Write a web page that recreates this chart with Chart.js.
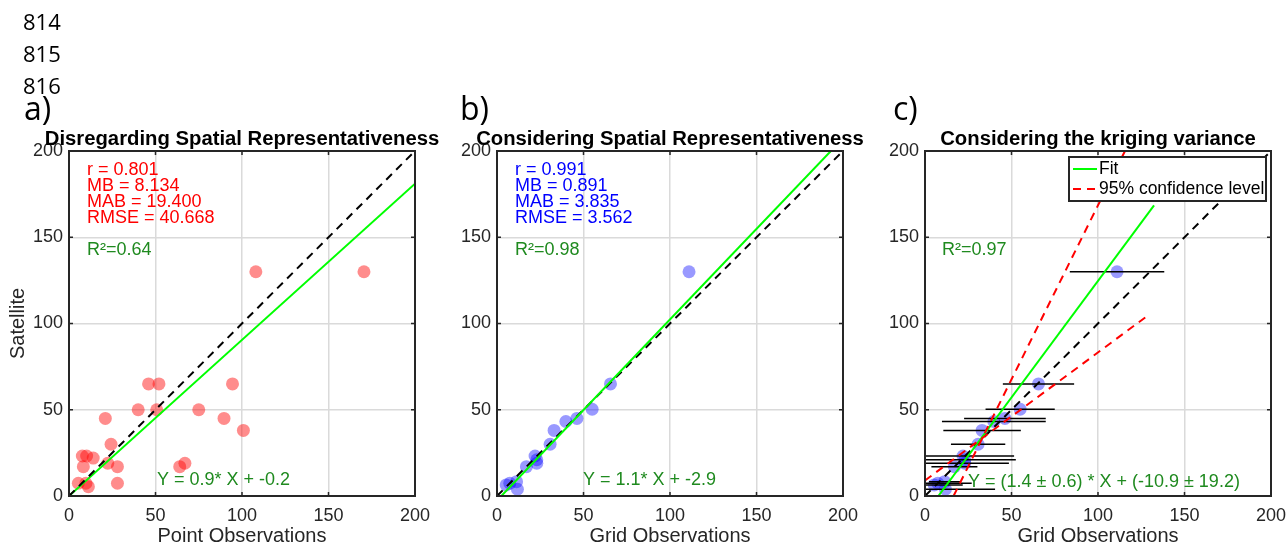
<!DOCTYPE html>
<html>
<head>
<meta charset="utf-8">
<script src="https://cdn.jsdelivr.net/npm/chart.js@4.4.0/dist/chart.umd.min.js"></script>
<style>
body { margin:0; background:#fff; width:1287px; height:548px; position:relative; overflow:hidden; }
canvas { position:absolute; top:0; }
.lbl { position:absolute; font-family:"Open Sans", sans-serif; line-height:1; color:#000; z-index:2; }
</style>
</head>
<body>
<canvas id="ca" width="450" height="548" style="left:0px"></canvas>
<canvas id="cb" width="432" height="548" style="left:440px"></canvas>
<canvas id="cc" width="436" height="548" style="left:865px"></canvas>

<div class="lbl" style="left:23px;top:10px;font-size:22px">814</div>
<div class="lbl" style="left:23px;top:42px;font-size:22px">815</div>
<div class="lbl" style="left:23px;top:74px;font-size:22px">816</div>
<div class="lbl" style="left:24px;top:92px;font-size:32px">a)</div>
<div class="lbl" style="left:460px;top:92px;font-size:32px">b)</div>
<div class="lbl" style="left:893px;top:92px;font-size:32px">c)</div>

<script>
'use strict';

const FONT = '"Liberation Sans", Helvetica, Arial, sans-serif';
Chart.defaults.font.family = FONT;

// axis ticks (same for every panel)
const axisTicks = [0, 50, 100, 150, 200];

// a) point observations vs satellite
const pointObs = [108, 170.5, 46, 52, 94.5, 40, 50.7, 75, 21, 89.6, 100.8, 24.3,
                  7.7, 10.2, 14, 8.3, 22.4, 28, 64, 67, 5.4, 11.2, 9.8, 28];
const pointSat = [130, 130, 65, 65, 65, 50, 50, 50, 45, 45, 38, 30,
                  23.2, 23.2, 22, 17, 19, 17, 17, 19, 7.4, 5.4, 7.4, 7.4];

// b) and c) grid observations vs satellite
const gridObs = [111, 65.6, 55, 46.2, 39.8, 33, 30.7, 22, 23, 23, 17, 5.3, 11.3, 11.8, 7.4];
const gridSat = [130, 65, 50.3, 45, 43.2, 38, 30, 23.2, 21, 19, 17, 6.4, 8.3, 3.9, 7.4];
// c) kriging standard deviation (half width of the horizontal bars)
const krigErr = [27.3, 20.6, 20, 23.6, 30, 22.4, 15.7, 29.5, 29.5, 25.5, 13.3, 16.5, 9, 28.7, 19.6];

// lines (end points)
const oneX = [0, 200], oneY = [0, 200];
const fitAX = [0, 200], fitAY = [0, 181];
const fitBX = [2.5, 193], fitBY = [0, 200];
const fitCX = [7.7, 132.4], fitCY = [0, 168.5];
const upCX = [16.5, 115.6], upCY = [0, 200];
const lowCX = [0, 130], lowCY = [9, 105.5];

// text in the panels
const titles = ['Disregarding Spatial Representativeness', 'Considering Spatial Representativeness',
                'Considering the kriging variance'];
const statsA = ['r = 0.801', 'MB = 8.134', 'MAB = 19.400', 'RMSE = 40.668'];
const statsB = ['r = 0.991', 'MB = 0.891', 'MAB = 3.835', 'RMSE = 3.562'];
const r2A = 'R\u00B2=0.64', r2B = 'R\u00B2=0.98', r2C = 'R\u00B2=0.97';
const eqA = 'Y = 0.9* X + -0.2';
const eqB = 'Y = 1.1* X + -2.9';
const eqC = 'Y = (1.4 \u00B1 0.6) * X + (-10.9 \u00B1 19.2)';
const legendC = ['Fit', '95% confidence level'];

const GREEN_TXT = '#1f8a1f';

function pts(xs, ys) {
    return xs.map((x, i) => ({ x: x, y: ys[i] }));
}

function lineSet(xs, ys, color, dash, order) {
    return { data: pts(xs, ys), showLine: true, pointRadius: 0, borderColor: color,
             borderWidth: 2, borderDash: dash, order: order };
}

// box round the axes + inward ticks (matlab style)
const boxPlugin = {
    id: 'box',
    afterDatasetsDraw(chart) {
        const { ctx, chartArea: a, scales } = chart;
        ctx.save();
        ctx.strokeStyle = '#262626';
        ctx.lineWidth = 1.5;
        axisTicks.forEach(v => {
            const px = scales.x.getPixelForValue(v);
            const py = scales.y.getPixelForValue(v);
            ctx.beginPath();
            ctx.moveTo(px, a.bottom); ctx.lineTo(px, a.bottom - 4);
            ctx.moveTo(px, a.top); ctx.lineTo(px, a.top + 4);
            ctx.moveTo(a.left, py); ctx.lineTo(a.left + 4, py);
            ctx.moveTo(a.right, py); ctx.lineTo(a.right - 4, py);
            ctx.stroke();
        });
        ctx.lineWidth = 2;
        ctx.strokeRect(a.left, a.top, a.right - a.left, a.bottom - a.top);
        ctx.restore();
    }
};

// panel title + text notes inside the plot
const notesPlugin = {
    id: 'notes',
    afterDraw(chart, args, opts) {
        const { ctx, chartArea: a } = chart;
        ctx.save();
        // title, centred on the axes, no squeezing
        ctx.font = 'bold 20.3px ' + FONT;
        ctx.fillStyle = '#000';
        ctx.textAlign = 'center';
        ctx.textBaseline = 'alphabetic';
        ctx.fillText(opts.title, (a.left + a.right) / 2, a.top - 6);

        ctx.font = '18px ' + FONT;
        ctx.textAlign = 'left';
        (opts.items || []).forEach(it => {
            ctx.fillStyle = it.color;
            const y = it.fromBottom ? a.bottom - it.dy : a.top + it.dy;
            ctx.fillText(it.text, a.left + it.dx, y);
        });
        ctx.restore();
    }
};

// legend box of panel c
const legendPlugin = {
    id: 'boxLegend',
    afterDraw(chart, args, opts) {
        if (!opts.show) return;
        const { ctx, chartArea: a } = chart;
        const left = a.left + 144, top = a.top + 6, w = a.right - 5 - left, h = 44;
        ctx.save();
        ctx.fillStyle = '#fff';
        ctx.fillRect(left, top, w, h);
        ctx.strokeStyle = '#262626';
        ctx.lineWidth = 2;
        ctx.strokeRect(left, top, w, h);
        ctx.strokeStyle = '#00ff00';
        ctx.beginPath(); ctx.moveTo(left + 4, top + 12); ctx.lineTo(left + 28, top + 12); ctx.stroke();
        ctx.strokeStyle = '#ff0000';
        ctx.setLineDash([8, 6]);
        ctx.beginPath(); ctx.moveTo(left + 4, top + 32); ctx.lineTo(left + 28, top + 32); ctx.stroke();
        ctx.setLineDash([]);
        ctx.fillStyle = '#000';
        ctx.font = '17.5px ' + FONT;
        ctx.textAlign = 'left';
        ctx.textBaseline = 'middle';
        ctx.fillText(legendC[0], left + 30, top + 12);
        ctx.fillText(legendC[1], left + 30, top + 32);
        ctx.restore();
    }
};

function scalesFor(xTitle, yTitle, yWidth) {
    return {
        x: {
            type: 'linear', min: 0, max: 200, position: 'bottom',
            ticks: { stepSize: 50, padding: 9, color: '#262626', font: { size: 18 } },
            grid: { color: '#dadada', lineWidth: 1.5, drawTicks: false },
            border: { display: false },
            title: { display: true, text: xTitle, color: '#262626', font: { size: 20 }, padding: 0 },
            afterFit: s => { s.height = 52; }
        },
        y: {
            type: 'linear', min: 0, max: 200,
            ticks: { stepSize: 50, padding: 6, color: '#262626', font: { size: 18 } },
            grid: { color: '#dadada', lineWidth: 1.5, drawTicks: false },
            border: { display: false },
            title: { display: !!yTitle, text: yTitle || '', color: '#262626', font: { size: 20 }, padding: 0 },
            afterFit: s => { s.width = yWidth; }
        }
    };
}

function makeChart(id, datasets, o) {
    return new Chart(document.getElementById(id), {
        type: 'scatter',
        data: { datasets: datasets },
        options: {
            responsive: false,
            animation: false,
            events: [],
            layout: { padding: { left: o.padLeft, right: o.padRight, top: 151, bottom: 0 } },
            scales: scalesFor(o.xTitle, o.yTitle, o.yWidth),
            plugins: {
                legend: { display: false },
                tooltip: { enabled: false },
                notes: { title: o.title, items: o.notes },
                boxLegend: { show: !!o.legend }
            }
        },
        plugins: [boxPlugin, notesPlugin, legendPlugin]
    });
}

function statNotes(lines, color) {
    return lines.map((t, i) => ({ text: t, color: color, dx: 18, dy: 24 + i * 15.9 }));
}

// ---- a) ----
makeChart('ca', [
    { data: pts(pointObs, pointSat), backgroundColor: 'rgba(255,0,0,0.45)', borderWidth: 0, pointRadius: 6.5, order: 9 },
    lineSet(fitAX, fitAY, '#00ff00', [], 2),
    lineSet(oneX, oneY, '#000000', [8, 6], 1)
], {
    padLeft: 6, padRight: 35, yWidth: 63,
    title: titles[0],
    xTitle: 'Point Observations', yTitle: 'Satellite',
    notes: statNotes(statsA, '#ff0000').concat([
        { text: r2A, color: GREEN_TXT, dx: 18, dy: 104 },
        { text: eqA, color: GREEN_TXT, dx: 88, dy: 11, fromBottom: true }
    ])
});

// ---- b) ----
makeChart('cb', [
    { data: pts(gridObs, gridSat), backgroundColor: 'rgba(0,0,255,0.4)', borderWidth: 0, pointRadius: 6.5, order: 9 },
    lineSet(oneX, oneY, '#000000', [8, 6], 2),
    lineSet(fitBX, fitBY, '#00ff00', [], 1)
], {
    padLeft: 0, padRight: 29, yWidth: 57,
    title: titles[1],
    xTitle: 'Grid Observations', yTitle: null,
    notes: statNotes(statsB, '#0000ff').concat([
        { text: r2B, color: GREEN_TXT, dx: 18, dy: 104 },
        { text: eqB, color: GREEN_TXT, dx: 86, dy: 11, fromBottom: true }
    ])
});

// ---- c) ----
const errBars = gridObs.map((x, i) => ({
    data: [{ x: x - krigErr[i], y: gridSat[i] }, { x: x + krigErr[i], y: gridSat[i] }],
    showLine: true, pointRadius: 0, borderColor: '#000000', borderWidth: 1.5, order: 5
}));

makeChart('cc', [
    { data: pts(gridObs, gridSat), backgroundColor: 'rgba(0,0,255,0.4)', borderWidth: 0, pointRadius: 6.5, order: 9 }
].concat(errBars, [
    lineSet(oneX, oneY, '#000000', [8, 6], 3),
    lineSet(fitCX, fitCY, '#00ff00', [], 2),
    lineSet(upCX, upCY, '#ff0000', [8, 6], 1),
    lineSet(lowCX, lowCY, '#ff0000', [8, 6], 1)
]), {
    padLeft: 0, padRight: 30, yWidth: 60,
    title: titles[2],
    xTitle: 'Grid Observations', yTitle: null,
    legend: true,
    notes: [
        { text: r2C, color: GREEN_TXT, dx: 17, dy: 104 },
        { text: eqC, color: GREEN_TXT, dx: 43, dy: 9, fromBottom: true }
    ]
});
</script>
</body>
</html>
